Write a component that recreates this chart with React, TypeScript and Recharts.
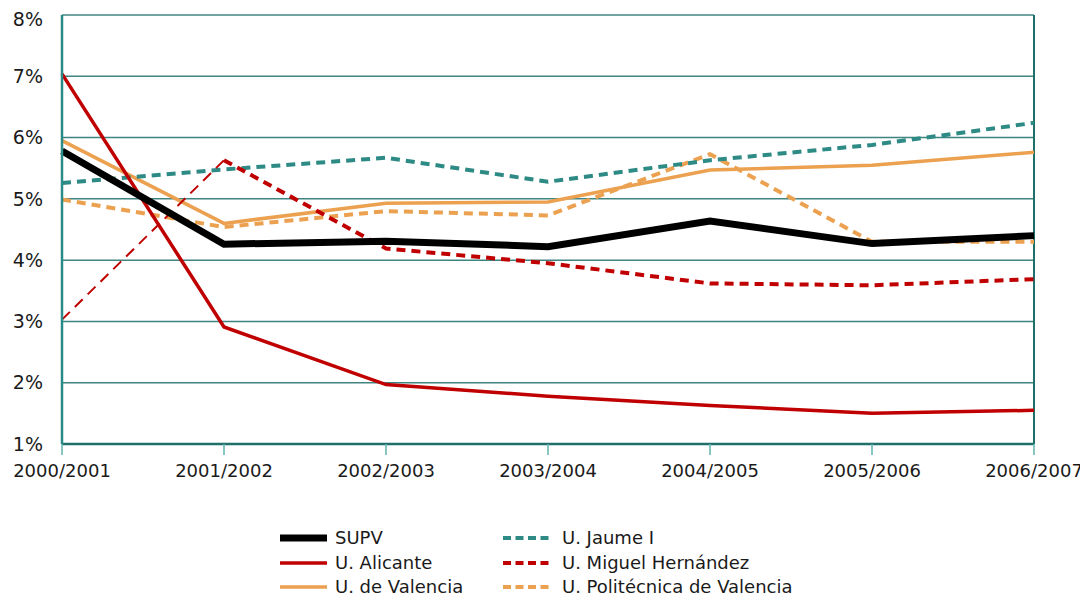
import React from "react"
import { CartesianGrid, Line, LineChart, ReferenceLine, XAxis, YAxis } from "recharts"

const years = ["2000/2001", "2001/2002", "2002/2003", "2003/2004", "2004/2005", "2005/2006", "2006/2007"]

const supv = [5.78, 4.26, 4.31, 4.22, 4.64, 4.27, 4.4]
const alicante = [7.04, 2.91, 1.97, 1.78, 1.63, 1.5, 1.55]
const valencia = [5.95, 4.6, 4.93, 4.95, 5.47, 5.55, 5.76]
const jaume = [5.26, 5.48, 5.67, 5.28, 5.63, 5.88, 6.24]
const miguel = [3.03, 5.63, 4.19, 3.95, 3.62, 3.59, 3.69]
const politecnica = [4.99, 4.54, 4.8, 4.73, 5.73, 4.3, 4.3]

const yTicks = [1, 2, 3, 4, 5, 6, 7, 8]

const data = years.map((year, i) => ({
  year,
  supv: supv[i],
  alicante: alicante[i],
  valencia: valencia[i],
  jaume: jaume[i],
  // first span of Miguel Hernández is drawn thin with long dashes
  miguelStart: i <= 1 ? miguel[i] : null,
  miguel: i >= 1 ? miguel[i] : null,
  politecnica: politecnica[i],
}))

const RED = "#c00000"
const ORANGE = "#eba150"
const TEAL = "#2e8a84"
const GRID = "#1f6f6b"
const FONT = "'DejaVu Sans', Verdana, sans-serif"

const legendItems = [
  { name: "SUPV", color: "#000", width: 7, dash: undefined, col: 0, row: 0 },
  { name: "U. Alicante", color: RED, width: 3.5, dash: undefined, col: 0, row: 1 },
  { name: "U. de Valencia", color: ORANGE, width: 3.5, dash: undefined, col: 0, row: 2 },
  { name: "U. Jaume I", color: TEAL, width: 4, dash: "8 4.5", col: 1, row: 0 },
  { name: "U. Miguel Hernández", color: RED, width: 4, dash: "8 4.5", col: 1, row: 1 },
  { name: "U. Politécnica de Valencia", color: ORANGE, width: 4, dash: "8 4.5", col: 1, row: 2 },
]

export default function App() {
  return (
    <div style={{ position: "relative", width: 1080, height: 585, fontFamily: FONT }}>
      <LineChart width={1080} height={585} data={data} margin={{ top: 7, right: 54, bottom: 109, left: 0 }}>
        <CartesianGrid vertical={false} stroke={GRID} strokeWidth={1.5} strokeOpacity={0.85} />
        <XAxis
          dataKey="year"
          height={40}
          tickSize={11}
          tickMargin={9}
          axisLine={{ stroke: GRID, strokeWidth: 2.5 }}
          tickLine={{ stroke: "#5fb3ae", strokeWidth: 1.5 }}
          tick={{ fill: "#1a1a1a", fontSize: 18, fontFamily: FONT }}
          interval={0}
        />
        <YAxis
          domain={[1, 8]}
          ticks={yTicks}
          width={54}
          tickSize={0}
          tickMargin={19}
          tickFormatter={(v) => `${v}%`}
          axisLine={{ stroke: "#2a8c88", strokeWidth: 2.5 }}
          tick={{ fill: "#1a1a1a", fontSize: 19, fontFamily: FONT }}
        />
        <ReferenceLine x={years[years.length - 1]} stroke={GRID} strokeWidth={2} />
        <Line dataKey="valencia" stroke={ORANGE} strokeWidth={3.5} dot={false} isAnimationActive={false} />
        <Line dataKey="politecnica" stroke={ORANGE} strokeWidth={4} strokeDasharray="9 6" dot={false} isAnimationActive={false} />
        <Line dataKey="jaume" stroke={TEAL} strokeWidth={4} strokeDasharray="9 6" dot={false} isAnimationActive={false} />
        <Line dataKey="miguelStart" stroke={RED} strokeWidth={2} strokeDasharray="11 7" dot={false} isAnimationActive={false} />
        <Line dataKey="miguel" stroke={RED} strokeWidth={4} strokeDasharray="9 6" dot={false} isAnimationActive={false} />
        <Line dataKey="alicante" stroke={RED} strokeWidth={3.5} dot={false} isAnimationActive={false} />
        <Line dataKey="supv" stroke="#000" strokeWidth={7} dot={false} isAnimationActive={false} />
      </LineChart>
      {legendItems.map((it) => {
        const lineX = it.col === 0 ? 272 : 495
        const textX = it.col === 0 ? 327 : 554
        const cy = 530 + it.row * 24.5
        return (
          <div key={it.name}>
            <svg style={{ position: "absolute", left: lineX, top: cy - 5 }} width={47} height={10}>
              <line x1={0} y1={5} x2={47} y2={5} stroke={it.color} strokeWidth={it.width} strokeDasharray={it.dash} />
            </svg>
            <span
              style={{
                position: "absolute",
                left: textX,
                top: cy - 12,
                fontSize: 18,
                lineHeight: "24px",
                color: "#1a1a1a",
                whiteSpace: "nowrap",
              }}
            >
              {it.name}
            </span>
          </div>
        )
      })}
    </div>
  )
}
